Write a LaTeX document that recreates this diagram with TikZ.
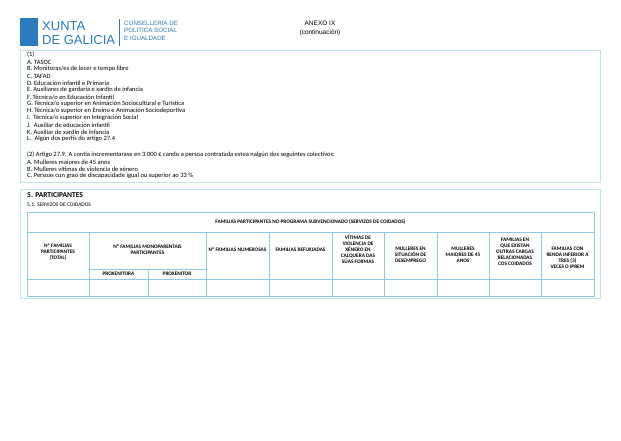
\documentclass[tikz,border=0pt]{standalone}
\usepackage{fontspec}
\setmainfont{Liberation Sans}
\newfontfamily\calfont{Carlito}
\definecolor{boxc}{HTML}{BFE3F0}
\definecolor{tabc}{HTML}{8CCBE3}
\definecolor{xblue}{HTML}{2A7BC0}
\begin{document}
\begin{tikzpicture}[x=1pt,y=-1pt,
  lst/.style={anchor=west,inner sep=0pt,font=\calfont\fontsize{6.5}{6.5}\selectfont},
  th/.style={align=center,inner sep=0pt,font=\calfont\bfseries\fontsize{5.3}{6}\selectfont},
  frame/.style={draw=boxc,line width=0.8pt},
  tl/.style={draw=tabc,line width=0.6pt}]
\useasboundingbox[fill=white] (0,0) rectangle (621,440);
% logo
\fill[xblue] (20,18) rectangle (38,46);
\node[anchor=west,inner sep=0pt,text=xblue,font=\fontsize{13}{13}\selectfont] (xu) at (42,26) {XUNTA};
\node[anchor=west,inner sep=0pt,text=xblue,font=\fontsize{13}{13}\selectfont] (dg) at (42,40) {DE GALICIA};
\draw[xblue,line width=0.7pt] (119,19) -- (119,46);
\node[anchor=north west,inner sep=0pt,align=left,text=xblue,font=\fontsize{6.2}{7.4}\selectfont] (cons) at (124,20) {CONSELLERÍA DE\\POLÍTICA SOCIAL\\E IGUALDADE};
\node[align=center,inner sep=0pt,font=\fontsize{6.5}{9}\selectfont] (anx) at (320,28) {ANEXO IX\\(continuación)};
% box 1
\draw[frame] (20,50) rectangle (600,182);
\foreach \t [count=\i from 0] in {(1),A. TASOC,B. Monitoras/es de lecer e tempo libre,C. TAFAD,D. Educación infantil e Primaria,E. Auxiliares de gardaría e xardín de infancia,F. Técnica/o en Educación Infantil,G. Técnica/o superior en Animación Sociocultural e Turística,H. Técnica/o superior en Ensino e Animación Sociodeportiva,I.\ \ Técnica/o superior en Integración Social,J.\ \ Auxiliar de educación infantil,K. Auxiliar de xardín de infancia,L.\ \ Algún dos perfís do artigo 27.4}
  \node[lst] (l\i) at (27,{55+7*\i}) {\t};
\node[lst] (m0) at (27,155) {(2) Artigo 27.9. A contía incrementarase en 3.000 € cando a persoa contratada estea nalgún dos seguintes colectivos:};
\node[lst] (m1) at (27,162) {A. Mulleres maiores de 45 anos};
\node[lst] (m2) at (27,169) {B. Mulleres vítimas de violencia de xénero};
\node[lst] (m3) at (27,176) {C. Persoas cun grao de discapacidade igual ou superior ao 33 \%};
% box 2
\draw[frame] (20,189) rectangle (600,298);
\node[lst,font=\calfont\bfseries\fontsize{7.5}{7.5}\selectfont] (p5) at (27,195) {5. PARTICIPANTES};
\node[lst,font=\calfont\fontsize{5.5}{6}\selectfont] (p51) at (27,205) {5.1. SERVIZOS DE COIDADOS};
% table
\draw[tl] (27,212) rectangle (594,296);
\draw[tl] (27,232) -- (594,232);
\draw[tl] (27,279) -- (594,279);
\draw[tl] (89,269) -- (206,269);
\foreach \x in {89,206,269,332,384,437,489,541} \draw[tl] (\x,232) -- (\x,296);
\draw[tl] (148,269) -- (148,296);
\node[th] (h0) at (310.5,222) {FAMILIAS PARTICIPANTES NO PROGRAMA SUBVENCIONADO (SERVIZOS DE COIDADOS)};
\node[th] (c1) at (58,252) {Nº FAMILIAS\\PARTICIPANTES\\(TOTAL)};
\node[th] (c2) at (147.5,250) {Nº FAMILIAS MONOPARENTAIS\\PARTICIPANTES};
\node[th] (c2a) at (118.5,274) {PROXENITORA};
\node[th] (c2b) at (177,274) {PROXENITOR};
\node[th] (c3) at (237.5,250) {Nº FAMILIAS NUMEROSAS};
\node[th] (c4) at (300.5,250) {FAMILIAS REFUXIADAS};
\node[th] (c5) at (358,249) {VÍTIMAS DE\\VIOLENCIA DE\\XÉNERO EN\\CALQUERA DAS\\SÚAS FORMAS};
\node[th] (c6) at (410.5,255) {MULLERES EN\\SITUACIÓN DE\\DESEMPREGO};
\node[th] (c7) at (463,255) {MULLERES\\MAIORES DE 45\\ANOS};
\node[th] (c8) at (515,252) {FAMILIAS EN\\QUE EXISTAN\\OUTRAS CARGAS\\RELACIONADAS\\COS COIDADOS};
\node[th] (c9) at (567.5,258) {FAMILIAS CON\\RENDA INFERIOR A\\TRES (3)\\VECES O IPREM};
\end{tikzpicture}
\end{document}
